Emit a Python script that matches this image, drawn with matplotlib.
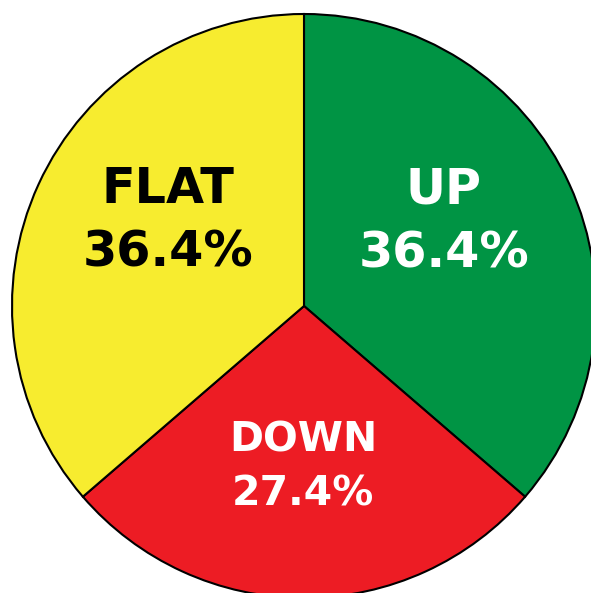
import matplotlib.pyplot as plt

labels = ["UP", "DOWN", "FLAT"]
shares = [36.4, 27.4, 36.4]
colors = ["#009444", "#ED1C24", "#F7EC2F"]
text_colors = ["white", "white", "black"]

# label placement (axes data units, radius = 1): x, baseline of name, baseline of pct, font size
label_pos = [(0.479, 0.350, 0.131, 35.5), (-0.003, -0.50, -0.682, 29.5), (-0.466, 0.353, 0.134, 35.5)]

fig = plt.figure(figsize=(5.91, 5.93), dpi=100)
ax = fig.add_axes([0, 0, 1, 1])

ax.pie(shares, colors=colors, startangle=90, counterclock=False,
       wedgeprops=dict(edgecolor="black", linewidth=1.5), radius=1)

for lab, val, tc, (x, y1, y2, fs) in zip(labels, shares, text_colors, label_pos):
    ax.text(x, y1, lab, ha="center", va="baseline", color=tc,
            fontsize=fs, fontweight="bold", family="DejaVu Sans")
    ax.text(x, y2, f"{val:.1f}%", ha="center", va="baseline", color=tc,
            fontsize=fs, fontweight="bold", family="DejaVu Sans")

ax.set_xlim(-304 / 292, (591 - 304) / 292)
ax.set_ylim(-(593 - 306) / 292, 306 / 292)
ax.set_aspect("auto")
ax.axis("off")

fig.savefig("out.png", dpi=100)
